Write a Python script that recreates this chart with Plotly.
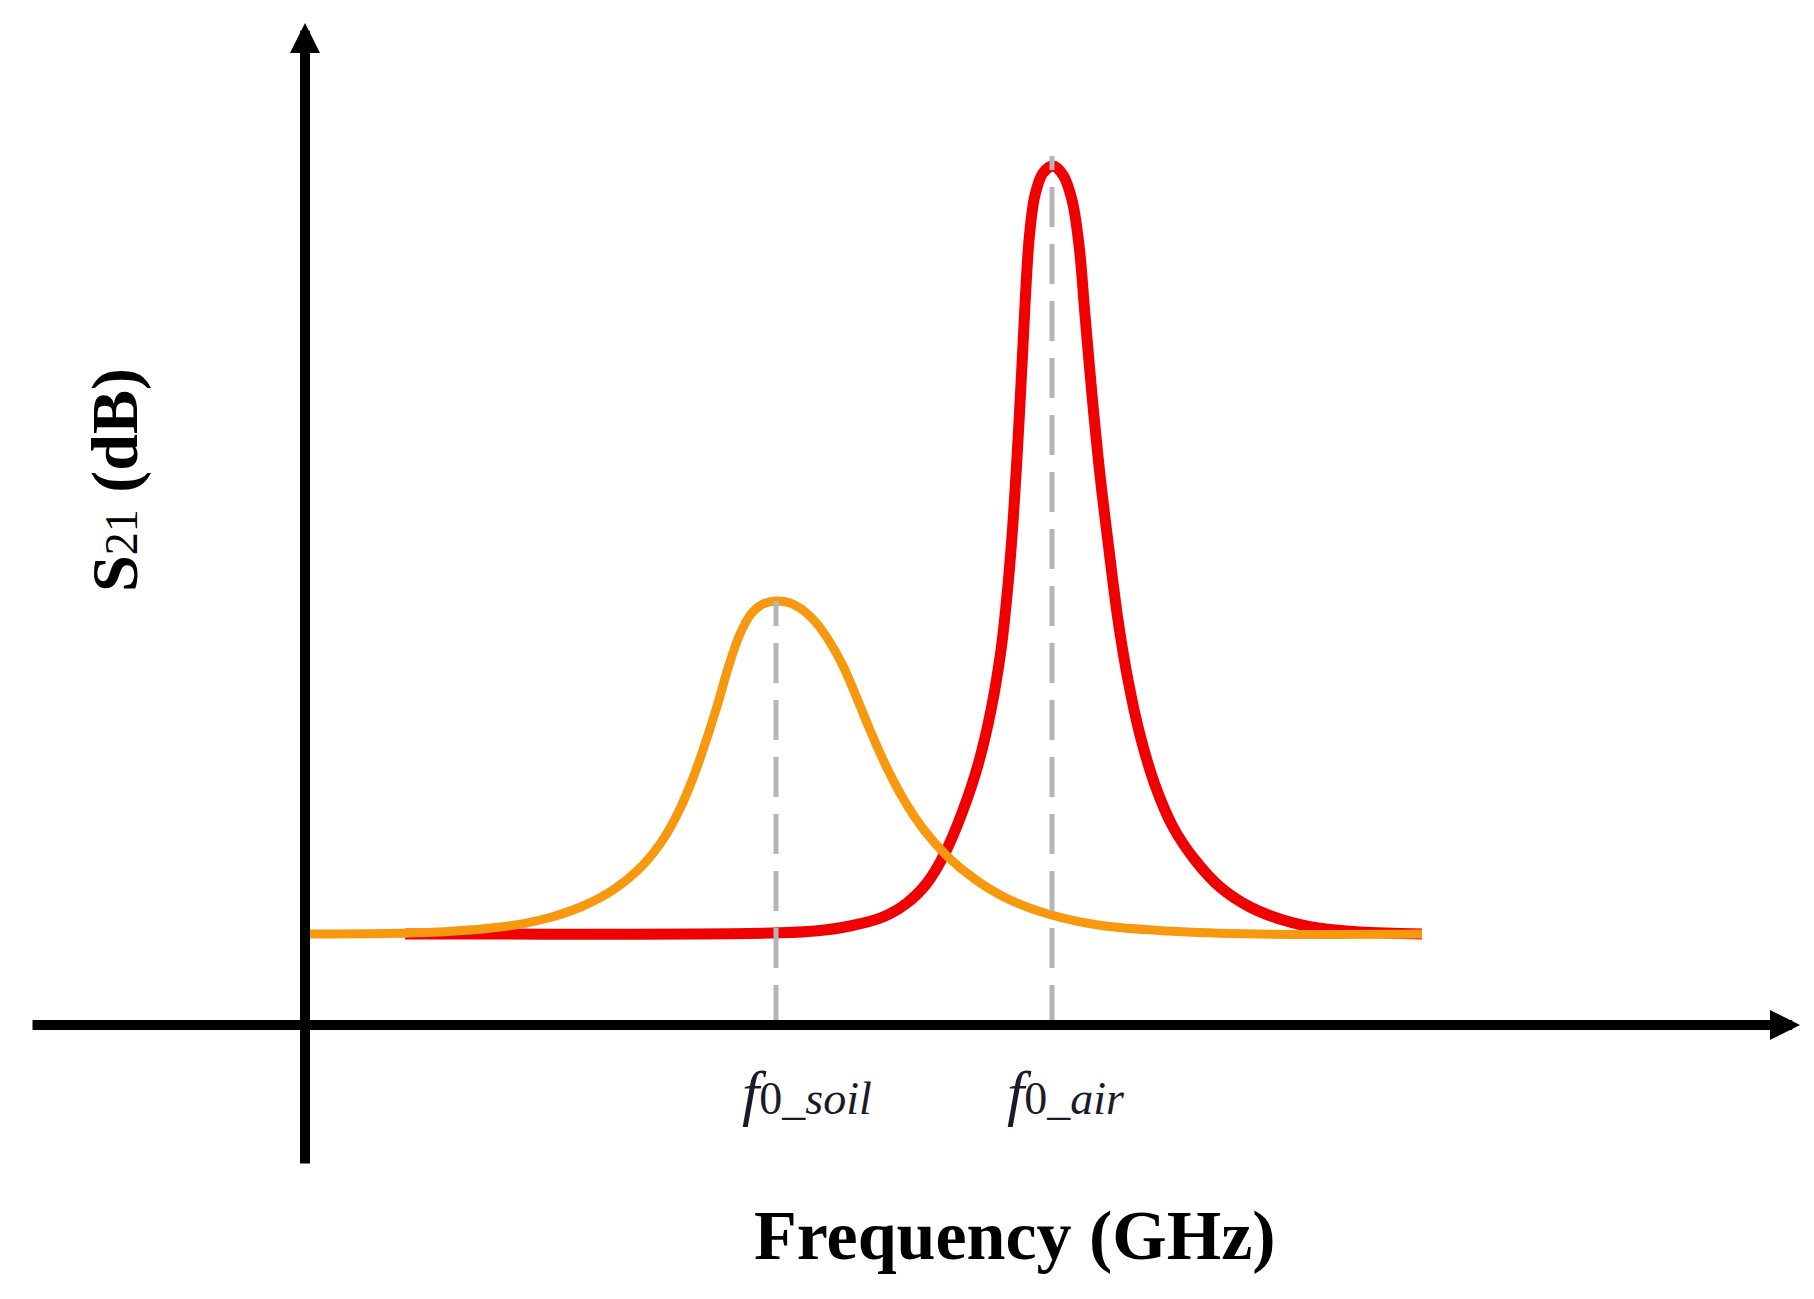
import plotly.graph_objects as go

# ---- data (schematic units) ----
soil_x = [0.00, 1.33, 2.03, 2.43, 2.78, 3.08, 3.33, 3.55, 3.73, 3.88, 4.01, 4.13, 4.24, 4.35,
          4.46, 4.58, 4.71, 4.85, 4.99, 5.13, 5.26, 5.39, 5.51, 5.65, 5.81, 5.99, 6.19, 6.43,
          6.71, 7.03, 7.43, 7.93, 8.63, 9.53, 11.17]
soil_y = [0.91, 0.93, 0.99, 1.07, 1.19, 1.35, 1.55, 1.81, 2.12, 2.47, 2.84, 3.22, 3.60, 3.91,
          4.11, 4.21, 4.24, 4.22, 4.14, 4.00, 3.81, 3.57, 3.29, 2.95, 2.59, 2.25, 1.95, 1.68,
          1.45, 1.26, 1.11, 1.00, 0.94, 0.91, 0.91]

air_x = [1.00, 4.66, 5.10, 5.45, 5.78, 6.02, 6.22, 6.40, 6.57, 6.73, 6.86, 6.96, 7.03, 7.085,
         7.13, 7.17, 7.205, 7.245, 7.30, 7.38, 7.48, 7.58, 7.67, 7.74, 7.80, 7.87, 7.95, 8.04,
         8.13, 8.23, 8.35, 8.50, 8.68, 8.90, 9.15, 9.45, 9.78, 10.13, 10.55, 11.17]
air_y = [0.91, 0.92, 0.94, 0.99, 1.08, 1.22, 1.42, 1.72, 2.12, 2.60, 3.15, 3.75, 4.40, 5.10,
         5.85, 6.60, 7.30, 7.90, 8.30, 8.52, 8.59, 8.50, 8.25, 7.80, 7.10, 6.30, 5.50, 4.75,
         4.05, 3.45, 2.90, 2.40, 1.98, 1.65, 1.38, 1.18, 1.05, 0.97, 0.93, 0.91]

f0_soil = 4.71
f0_air = 7.47
peak_soil = 4.24
peak_air = 8.69

tick_labels = ["<span style='font-size:62px'><i>f</i></span>0_<i>soil</i>",
               "<span style='font-size:62px'><i>f</i></span>0_<i>air</i>"]
x_title = "<b>Frequency (GHz)</b>"
y_title = "<b>S</b><span style='font-size:46px'>21</span><b> (dB)</b>"

# axis extents (schematic)
x_axis_from, x_axis_to = -2.74, 14.95
y_axis_from, y_axis_to = -1.40, 10.02

fig = go.Figure()
fig.add_trace(go.Scatter(x=air_x, y=air_y, mode="lines",
                         line=dict(color="#f00000", width=11, shape="spline", smoothing=1.0),
                         hoverinfo="skip"))
fig.add_trace(go.Scatter(x=soil_x, y=soil_y, mode="lines",
                         line=dict(color="#f7980f", width=9, shape="spline", smoothing=1.0),
                         hoverinfo="skip"))

# dashed guide lines
for fx, py in [(f0_soil, peak_soil), (f0_air, peak_air)]:
    fig.add_shape(type="line", x0=fx, x1=fx, y0=0, y1=py, xref="x", yref="y",
                  line=dict(color="#b5b5b5", width=5, dash="40px,17px"), layer="above")

annotations = []
# x axis arrow
annotations.append(dict(x=x_axis_to, y=0, ax=x_axis_from, ay=0, xref="x", yref="y",
                        axref="x", ayref="y", text="", showarrow=True, arrowhead=2,
                        arrowsize=0.6, arrowwidth=10, arrowcolor="black", standoff=0))
# y axis arrow
annotations.append(dict(x=0, y=y_axis_to, ax=0, ay=y_axis_from, xref="x", yref="y",
                        axref="x", ayref="y", text="", showarrow=True, arrowhead=2,
                        arrowsize=0.6, arrowwidth=10, arrowcolor="black", standoff=0))
# tick labels
for fx, lab in zip([f0_soil + 0.31, f0_air + 0.14], tick_labels):
    annotations.append(dict(x=fx, y=-0.68, xref="x", yref="y", text=lab, showarrow=False,
                            font=dict(family="Liberation Serif", size=46, color="#1a1a2a"),
                            xanchor="center", yanchor="middle"))
# axis titles
annotations.append(dict(x=7.10, y=-2.10, xref="x", yref="y", text=x_title, showarrow=False,
                        font=dict(family="Liberation Serif", size=70, color="black"),
                        xanchor="center", yanchor="middle"))
annotations.append(dict(x=-1.90, y=5.45, xref="x", yref="y", text=y_title, showarrow=False,
                        textangle=-90,
                        font=dict(family="Liberation Serif", size=66, color="black"),
                        xanchor="center", yanchor="middle"))

fig.update_layout(
    width=1814, height=1299,
    margin=dict(l=0, r=0, t=0, b=0),
    paper_bgcolor="white", plot_bgcolor="white",
    showlegend=False,
    xaxis=dict(range=[-2.97, 15.17], visible=False, fixedrange=True),
    yaxis=dict(range=[-2.82, 10.17], visible=False, fixedrange=True),
    annotations=annotations,
)

fig.write_html("out.html")
